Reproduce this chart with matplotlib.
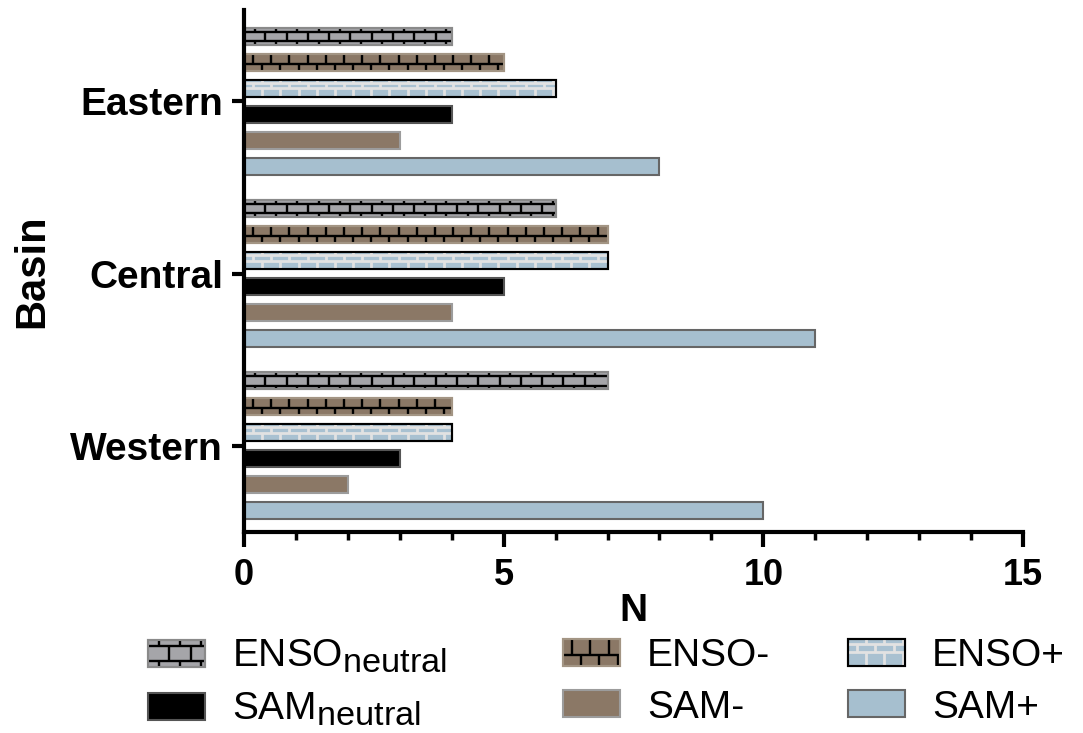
import numpy as np
import matplotlib
import matplotlib.pyplot as plt
from matplotlib.patches import Rectangle
from matplotlib.collections import LineCollection
from matplotlib.legend_handler import HandlerBase

# subscripts in the legend are nearly full size in the original
try:
    matplotlib._mathtext.SHRINK_FACTOR = 0.88
except Exception:
    pass

plt.rcParams["font.family"] = ["Liberation Sans", "DejaVu Sans"]
plt.rcParams["mathtext.fontset"] = "custom"
plt.rcParams["mathtext.rm"] = "Liberation Sans"
plt.rcParams["mathtext.it"] = "Liberation Sans:italic"
plt.rcParams["mathtext.bf"] = "Liberation Sans:bold"

# data (order: Western, Central, Eastern)
basins = ["Western", "Central", "Eastern"]
labels = [r"ENSO$_{\mathrm{neutral}}$", "ENSO-", "ENSO+",
          r"SAM$_{\mathrm{neutral}}$", "SAM-", "SAM+"]
enso_neutral = [7, 6, 4]
enso_minus = [4, 7, 5]
enso_plus = [4, 7, 6]
sam_neutral = [3, 5, 4]
sam_minus = [2, 4, 3]
sam_plus = [10, 11, 8]
values = [enso_neutral, enso_minus, enso_plus, sam_neutral, sam_minus, sam_plus]

# styles: fill, edge, brick pattern (row bounds from bottom, row offsets, brick width in data units)
styles = [
    dict(fc="#a5a5a9", ec="#8a8a8a", brick=dict(bounds=[0, 0.22, 0.78, 1], offs=[0.5, 0, 0.5],
                                                 bw=0.41, color="black", lw=1.7)),
    dict(fc="#8b7866", ec="#a39584", brick=dict(bounds=[0, 0.42, 1], offs=[0, 0.5],
                                                bw=0.35, color="black", lw=1.7)),
    dict(fc="#a9c1d1", ec="black", brick=dict(bounds=[0, 0.5, 0.82, 1], offs=[0, 0.5, 0],
                                              bw=0.35, color="#e2e2e2", lw=2.0)),
    dict(fc="black", ec="#555555", brick=None),
    dict(fc="#8b7866", ec="#9c9c9c", brick=None),
    dict(fc="#a6bfcf", ec="#666666", brick=None),
]

PX_PER_UNIT = 52.0


def brick_segments(x0, y0, w, h, bw, bounds, offs):
    segs = []
    for b in bounds[1:-1]:
        segs.append([(x0, y0 + b * h), (x0 + w, y0 + b * h)])
    for lo, hi, off in zip(bounds[:-1], bounds[1:], offs):
        for xv in np.arange(x0 + off * bw, x0 + w, bw):
            if xv - x0 < bw * 0.2 or x0 + w - xv < bw * 0.1:
                continue
            segs.append([(xv, y0 + lo * h), (xv, y0 + hi * h)])
    return segs


class BrickHandler(HandlerBase):
    def __init__(self, style):
        super().__init__()
        self.style = style

    def create_artists(self, legend, orig_handle, xdescent, ydescent,
                       width, height, fontsize, trans):
        st = self.style
        x0, y0 = -xdescent, -ydescent
        rect = Rectangle((x0, y0), width, height, facecolor=st["fc"],
                         edgecolor=st["ec"], linewidth=1.5, transform=trans)
        arts = [rect]
        br = st["brick"]
        if br is not None:
            bw = br["bw"] * PX_PER_UNIT * 0.72
            segs = brick_segments(x0, y0, width, height, bw, br["bounds"], br["offs"])
            arts.append(LineCollection(segs, colors=br["color"], linewidths=br["lw"],
                                       transform=trans))
            arts.append(Rectangle((x0, y0), width, height, facecolor="none",
                                  edgecolor=st["ec"], linewidth=1.5, transform=trans))
        return arts


fig = plt.figure(figsize=(10.83, 7.33), dpi=100)
ax = fig.add_axes([0.2253, 0.2742, 0.7193, 0.712])

y = np.arange(len(basins))
step = 0.151
bar_h = 0.098
for i, (vals, st) in enumerate(zip(values, styles)):
    ypos = y + (2.5 - i) * step
    ax.barh(ypos, vals, height=bar_h, color=st["fc"], edgecolor=st["ec"],
            linewidth=1.5, zorder=2)
    br = st["brick"]
    if br is not None:
        segs = []
        for yc, v in zip(ypos, vals):
            segs += brick_segments(0, yc - bar_h / 2, v, bar_h, br["bw"], br["bounds"], br["offs"])
        ax.add_collection(LineCollection(segs, colors=br["color"], linewidths=br["lw"], zorder=3))
        ax.barh(ypos, vals, height=bar_h, color="none", edgecolor=st["ec"],
                linewidth=1.5, zorder=4)

ax.set_xlim(0, 15)
ax.set_ylim(-0.5, 2.53)
ax.set_xticks([0, 5, 10, 15])
ax.set_xticks(np.arange(0, 16, 1), minor=True)
ax.set_yticks(y)
ax.set_yticklabels(basins, fontsize=28, fontweight="bold")
ax.tick_params(axis="x", labelsize=26, width=3, length=11, pad=8)
ax.tick_params(axis="x", which="minor", width=2.5, length=6)
ax.tick_params(axis="y", width=3, length=9, pad=6)
for lab in ax.get_xticklabels():
    lab.set_fontweight("bold")
for s in ["top", "right"]:
    ax.spines[s].set_visible(False)
for s in ["left", "bottom"]:
    ax.spines[s].set_linewidth(3)
    ax.spines[s].set_zorder(6)
ax.set_xlabel("N", fontsize=28, fontweight="bold", labelpad=0)
ax.set_ylabel("Basin", fontsize=30, fontweight="bold", labelpad=13)

# legend: three columns, placed as separate legends
proxies = [Rectangle((0, 0), 1, 1) for _ in labels]
hmap = {p: BrickHandler(st) for p, st in zip(proxies, styles)}
col_x = [148, 563, 848]
fs = 28
for c in range(3):
    idx = [c, c + 3]
    fig.legend([proxies[k] for k in idx], [labels[k] for k in idx], handler_map=hmap,
               loc="upper left", bbox_to_anchor=(col_x[c] / 1083, 1 - 638 / 733),
               frameon=False, fontsize=fs, borderpad=0, borderaxespad=0,
               handlelength=57 / (fs / 0.72), handleheight=27 / (fs / 0.72),
               handletextpad=27 / (fs / 0.72), labelspacing=0.4)

fig.savefig("out.png", dpi=100)
